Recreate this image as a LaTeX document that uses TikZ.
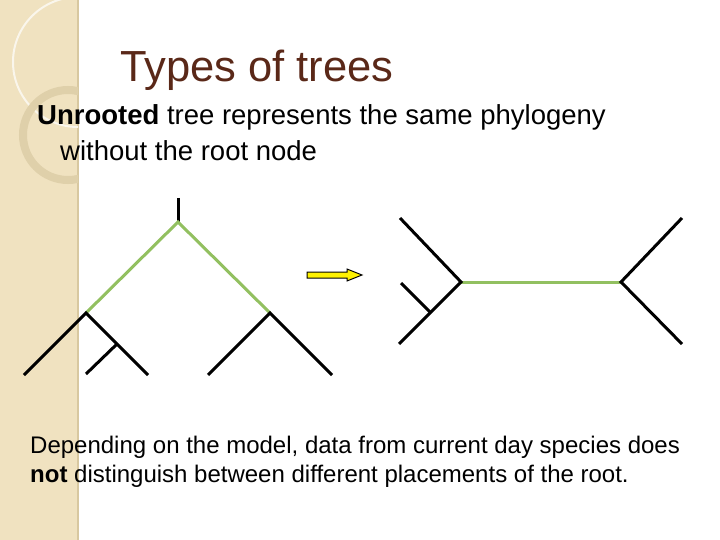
\documentclass[tikz,border=0pt]{standalone}
\usepackage{fontspec}
\setmainfont{Liberation Sans}
\usetikzlibrary{arrows.meta}
\definecolor{beige}{HTML}{F0E2C0}
\definecolor{beigeline}{HTML}{D8C8A0}
\definecolor{titlec}{HTML}{5A2818}
\definecolor{greenl}{HTML}{92C060}
\tikzset{br/.style={line width=3pt,black},gr/.style={line width=3pt,greenl},
txt/.style={anchor=west,inner sep=0pt,font=\fontsize{27.5}{32}\selectfont},
txtb/.style={anchor=west,inner sep=0pt,font=\fontsize{24}{28}\selectfont}}
\begin{document}
\begin{tikzpicture}[x=1pt,y=-1pt]
\useasboundingbox (0,0) rectangle (720,540);
\fill[white] (0,0) rectangle (720,540);
\fill[beige] (0,0) rectangle (78,540);
\draw[beigeline,line width=1.5pt] (78,0) -- (78,540);
\begin{scope}
\clip (0,0) rectangle (78,540);
\draw[white!70!beige,line width=2pt] (78,62) circle[radius=65];
\draw[beigeline!70!beige,line width=8pt] (68,135) circle[radius=45];
\end{scope}
\node[anchor=west,inner sep=0pt,text=titlec,font=\fontsize{43.5}{50}\selectfont] (title) at (120,70) {Types of trees};
\node[txt] (t1) at (37,117) {\textbf{Unrooted} tree represents the same phylogeny};
\node[txt] (t2) at (60,151) {without the root node};
\node[txtb] (t3) at (30,447) {Depending on the model, data from current day species does};
\node[txtb] (t4) at (30,476) {\textbf{not} distinguish between different placements of the root.};
% left tree
\coordinate (top) at (178,198);
\coordinate (r) at (178,222);
\coordinate (a) at (86,313);
\coordinate (b) at (270,313);
\coordinate (a1) at (24,375);
\coordinate (a2) at (148,375);
\coordinate (am) at (117,344);
\coordinate (a3) at (86,374);
\coordinate (b1) at (208,375);
\coordinate (b2) at (332,375);
\draw[br] (top) -- (r);
\draw[gr] (a) -- (r) -- (b);
\draw[br] (a1) -- (a) -- (a2);
\draw[br] (am) -- (a3);
\draw[br] (b1) -- (b) -- (b2);
% arrow
\draw[black,line width=1pt,fill=yellow] (307,272) -- (347,272) -- (347,269) -- (362,275) -- (347,281) -- (347,278) -- (307,278) -- cycle;
% right tree
\coordinate (u) at (461,282);
\coordinate (v) at (621,282);
\coordinate (u1) at (400,218);
\coordinate (u2) at (399,344);
\coordinate (um) at (431,313);
\coordinate (u3) at (401,283);
\coordinate (v1) at (682,218);
\coordinate (v2) at (682,344);
\draw[gr] (u) -- (v);
\draw[br] (u1) -- (u) -- (u2);
\draw[br] (um) -- (u3);
\draw[br] (v1) -- (v) -- (v2);
\end{tikzpicture}
\end{document}
